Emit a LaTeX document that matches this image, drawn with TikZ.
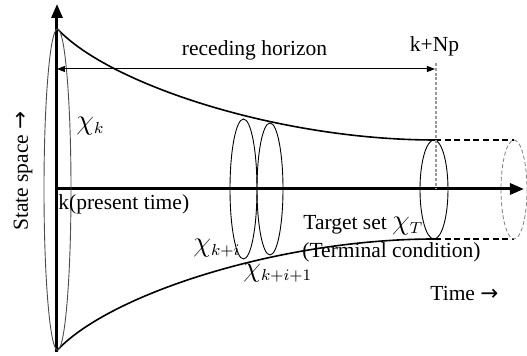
\documentclass[tikz,border=0pt]{standalone}
\usepackage{fontspec}
\setmainfont{Liberation Serif}
\newfontfamily\arrowfont{DejaVu Sans}
\usetikzlibrary{arrows.meta}
\newcommand{\chiset}[1]{{\fontsize{14}{16}\selectfont$\chi$}{\fontsize{11}{12}\selectfont$_{#1}$}}

\begin{document}
\begin{tikzpicture}[
  x=0.5pt, y=-0.5pt,
  font=\fontsize{10.75}{13}\selectfont,
  lbl/.style={inner sep=0pt},
  axis/.style={line width=1.5pt,-{Triangle[width=5.5pt,length=7pt]}},
  bound/.style={line width=0.8pt},
  region/.style={line width=0.45pt},
  ghost/.style={line width=0.4pt,gray,dash pattern=on 2pt off 1.2pt}
]
  \useasboundingbox (0,0) rectangle (527,356);
  \clip (0,0) rectangle (527,356);
  % axes
  \coordinate (o) at (57,189);
  \coordinate (vbot) at (57,352);
  \coordinate (vtop) at (57,4);
  \coordinate (hend) at (524,189);
  \draw[axis] (vbot) -- (vtop);
  \draw[axis] (o) -- (hend);
  % funnel
  \coordinate (t0) at (57.5,29);
  \coordinate (b0) at (57.5,350);
  \coordinate (tN) at (435,140);
  \coordinate (bN) at (435,239);
  \coordinate (tE) at (514,140);
  \coordinate (bE) at (514,239);
  \draw[bound] (t0) .. controls (110,85) and (280,140) .. (tN);
  \draw[bound] (b0) .. controls (110,294) and (280,239) .. (bN);
  \draw[bound,dash pattern=on 3pt off 1.8pt] (tN) -- (tE);
  \draw[bound,dash pattern=on 3pt off 1.8pt] (bN) -- (bE);
  % sets
  \draw[region,black!70] (57.5,189.5) ellipse [x radius=13.5, y radius=160.5];
  \draw[region] (243.5,189) ellipse [x radius=13.5, y radius=70];
  \draw[region] (270,189) ellipse [x radius=13, y radius=66];
  \draw[region] (434,189.5) ellipse [x radius=14, y radius=49.5];
  \draw[ghost] (514,189.5) ellipse [x radius=13, y radius=49.5];
  % horizon
  \coordinate (hl) at (57,69);
  \coordinate (hr) at (435,69);
  \draw[line width=0.5pt,{Triangle[width=3pt,length=4pt]}-{Triangle[width=3pt,length=4pt]}] (hl) -- (hr);
  \node[lbl,anchor=base] (horizon) at (254.5,56) {receding horizon};
  \node[lbl,anchor=base] (knp) at (434.5,52) {k+Np};
  \coordinate (kax) at (436,189);
  \draw[black!40,line width=0.6pt,dash pattern=on 1.5pt off 0.9pt] ([yshift=-3pt]knp.south -| kax) -- (kax);
  % labels
  \node[lbl,anchor=base west] (present) at (58,210) {k(present time)};
  \node[lbl,anchor=base west] (target) at (303,230) {Target set \chiset{T}};
  \node[lbl,anchor=base west] (terminal) at (302,258) {(Terminal condition)};
  \node[lbl,anchor=base west] (timelbl) at (430,301) {Time {\arrowfont →}};
  \node[lbl,anchor=base west] (chik) at (76,130) {\chiset{k}};
  \node[lbl,anchor=base west] (chiki) at (193,252) {\chiset{k+i}};
  \node[lbl,anchor=base west] (chikii) at (243,277) {\chiset{k+i+1}};
  \node[lbl,rotate=90] (statelbl) at (23,171) {State space {\arrowfont →}};
\end{tikzpicture}
\end{document}
